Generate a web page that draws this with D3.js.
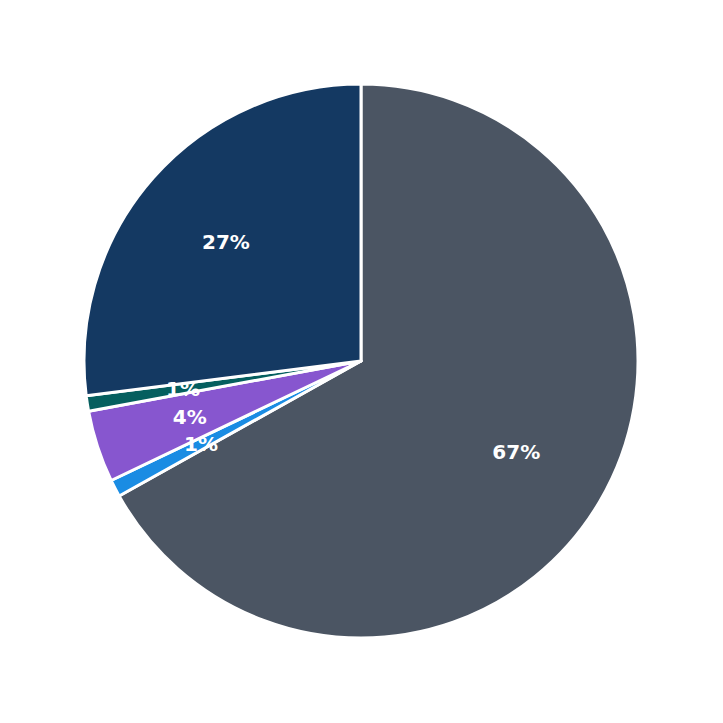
<!DOCTYPE html><html><head><meta charset="utf-8"><script src="https://cdn.jsdelivr.net/npm/d3@7"></script>
<style>body{margin:0;background:#fff}</style></head><body><svg id="c" width="723" height="723"></svg>
<script>
const categories=["A","B","C","D","E"];
const values=[66.9,1.0,4.2,0.9,27.0];
const labels=["67%","1%","4%","1%","27%"];
const colors=["#4b5563","#1a8ce3","#8756cf","#055f5f","#143962"];
const svg=d3.select("#c"),cx=361,cy=361,R=277;
const pie=d3.pie().sort(null).value(d=>d)(values);
const arc=d3.arc().innerRadius(0).outerRadius(R);
const la=d3.arc().innerRadius(R*0.65).outerRadius(R*0.65);
const g=svg.append("g").attr("transform",`translate(${cx},${cy})`);
g.selectAll("path").data(pie).join("path").attr("d",arc).attr("fill",(d,i)=>colors[i]).attr("stroke","#fff").attr("stroke-width",3).attr("stroke-linejoin","round");
g.selectAll("text").data(pie).join("text").attr("transform",d=>`translate(${la.centroid(d)})`)
 .attr("text-anchor","middle").attr("dy","0.35em").attr("fill","#fff").attr("font-family","DejaVu Sans").attr("font-weight","bold").attr("font-size",20)
 .text((d,i)=>labels[i]);
</script></body></html>
